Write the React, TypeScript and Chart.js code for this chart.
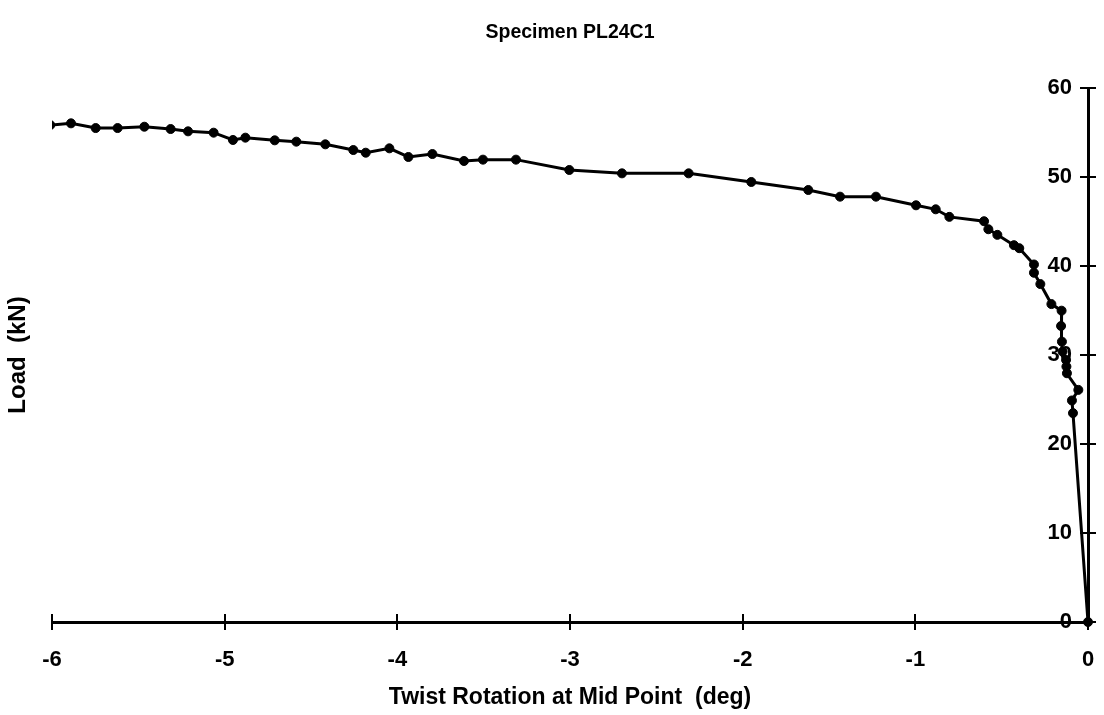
import React, { useEffect, useRef } from "react";
import { Chart, registerables } from "chart.js";

Chart.register(...registerables);

const chartTitle = "Specimen PL24C1";
const xAxisTitle = "Twist Rotation at Mid Point  (deg)";
const yAxisTitle = "Load  (kN)";

const rotationDeg = [
  -6.01, -5.89, -5.747, -5.62, -5.465, -5.313, -5.212, -5.064, -4.952, -4.88,
  -4.71, -4.585, -4.417, -4.255, -4.183, -4.046, -3.936, -3.797, -3.614, -3.504,
  -3.313, -3.004, -2.699, -2.313, -1.95, -1.62, -1.436, -1.228, -0.996, -0.882,
  -0.803, -0.602, -0.577, -0.525, -0.429, -0.398, -0.313, -0.313, -0.276, -0.212,
  -0.153, -0.156, -0.151, -0.147, -0.127, -0.125, -0.122, -0.056, -0.093, -0.087,
  0,
];
const loadKN = [
  55.84, 56.03, 55.5, 55.5, 55.65, 55.39, 55.13, 54.98, 54.16, 54.42,
  54.12, 53.97, 53.67, 53.03, 52.73, 53.22, 52.25, 52.58, 51.8, 51.95,
  51.95, 50.79, 50.41, 50.41, 49.44, 48.54, 47.79, 47.79, 46.82, 46.37,
  45.52, 45.03, 44.13, 43.5, 42.34, 42.0, 40.17, 39.24, 37.97, 35.72,
  34.98, 33.26, 31.5, 30.38, 29.45, 28.7, 27.95, 26.08, 24.89, 23.47,
  0,
];
const xTickValues = [-6, -5, -4, -3, -2, -1, 0];
const yTickValues = [0, 10, 20, 30, 40, 50, 60];

const FONT = '"Liberation Sans", Arial, sans-serif';
const TICK_HALF = 8;

// tick marks that cross the axis lines (both sides)
const crossTicks = {
  id: "crossTicks",
  beforeDatasetsDraw(chart: any) {
    const ctx = chart.ctx;
    const xs = chart.scales.x;
    const ys = chart.scales.y;
    const area = chart.chartArea;
    ctx.save();
    ctx.strokeStyle = "#000";
    ctx.lineWidth = 2;
    ctx.beginPath();
    xTickValues.forEach((v) => {
      const px = Math.round(xs.getPixelForValue(v));
      ctx.moveTo(px, area.bottom - TICK_HALF);
      ctx.lineTo(px, area.bottom + TICK_HALF);
    });
    yTickValues.forEach((v) => {
      const py = Math.round(ys.getPixelForValue(v));
      ctx.moveTo(area.right - TICK_HALF, py);
      ctx.lineTo(area.right + TICK_HALF, py);
    });
    ctx.stroke();
    ctx.restore();
  },
};

export default function App() {
  const ref = useRef<HTMLCanvasElement | null>(null);

  useEffect(() => {
    if (!ref.current) return;
    const points = rotationDeg.map((x, i) => ({ x, y: loadKN[i] }));
    const chart = new Chart(ref.current, {
      type: "scatter",
      data: {
        datasets: [
          {
            data: points,
            showLine: true,
            borderColor: "#000",
            backgroundColor: "#000",
            borderWidth: 3,
            pointRadius: 4.5,
            pointBorderWidth: 1,
            pointBackgroundColor: "#000",
            pointBorderColor: "#000",
            tension: 0,
            clip: { left: 0, right: false, top: false, bottom: false } as any,
          },
        ],
      },
      options: {
        responsive: false,
        animation: false,
        devicePixelRatio: 1,
        layout: { padding: 0 },
        plugins: {
          legend: { display: false },
          tooltip: { enabled: false },
          title: {
            display: true,
            text: chartTitle,
            color: "#000",
            fullSize: false,
            font: { family: FONT, size: 19.5, weight: "bold" },
            padding: { top: 21, bottom: 43.6 },
          },
        },
        scales: {
          x: {
            type: "linear",
            position: "bottom",
            min: -6,
            max: 0,
            afterBuildTicks: (s: any) => {
              s.ticks = xTickValues.map((v) => ({ value: v }));
            },
            afterFit: (s: any) => {
              s.height = 93;
            },
            ticks: {
              color: "#000",
              font: { family: FONT, size: 22, weight: "bold" },
              padding: 0,
              maxRotation: 0,
              autoSkip: false,
            },
            grid: {
              drawOnChartArea: false,
              drawTicks: true,
              tickLength: 25,
              tickColor: "rgba(0,0,0,0)",
            },
            border: { display: true, color: "#000", width: 3 },
            title: {
              display: true,
              text: xAxisTitle,
              color: "#000",
              font: { family: FONT, size: 23, weight: "bold" },
              padding: { top: 0, bottom: 4 },
            },
          },
          y: {
            type: "linear",
            position: "right",
            min: 0,
            max: 60,
            afterBuildTicks: (s: any) => {
              s.ticks = yTickValues.map((v) => ({ value: v }));
            },
            afterFit: (s: any) => {
              s.width = 16;
            },
            ticks: { display: false },
            grid: { drawOnChartArea: false, drawTicks: false },
            border: { display: true, color: "#000", width: 3 },
          },
          yLabels: {
            type: "linear",
            position: { x: -0.093 } as any,
            min: 0,
            max: 60,
            afterBuildTicks: (s: any) => {
              s.ticks = yTickValues.map((v) => ({ value: v }));
            },
            ticks: {
              color: "#000",
              font: { family: FONT, size: 22, weight: "bold" },
              padding: 0,
              autoSkip: false,
            },
            grid: { display: false, drawTicks: false },
            border: { display: false },
          },
          yTitle: {
            type: "linear",
            position: "left",
            display: true,
            afterFit: (s: any) => {
              s.width = 52;
            },
            ticks: { display: false },
            grid: { display: false, drawTicks: false },
            border: { display: false },
            title: {
              display: true,
              text: yAxisTitle,
              color: "#000",
              font: { family: FONT, size: 24, weight: "bold" },
              padding: { top: 4, bottom: 0 },
            },
          },
        },
      },
      plugins: [crossTicks],
    });
    return () => chart.destroy();
  }, []);

  return (
    <canvas
      ref={ref}
      width={1104}
      height={715}
      style={{ position: "absolute", left: 0, top: 0 }}
    />
  );
}
